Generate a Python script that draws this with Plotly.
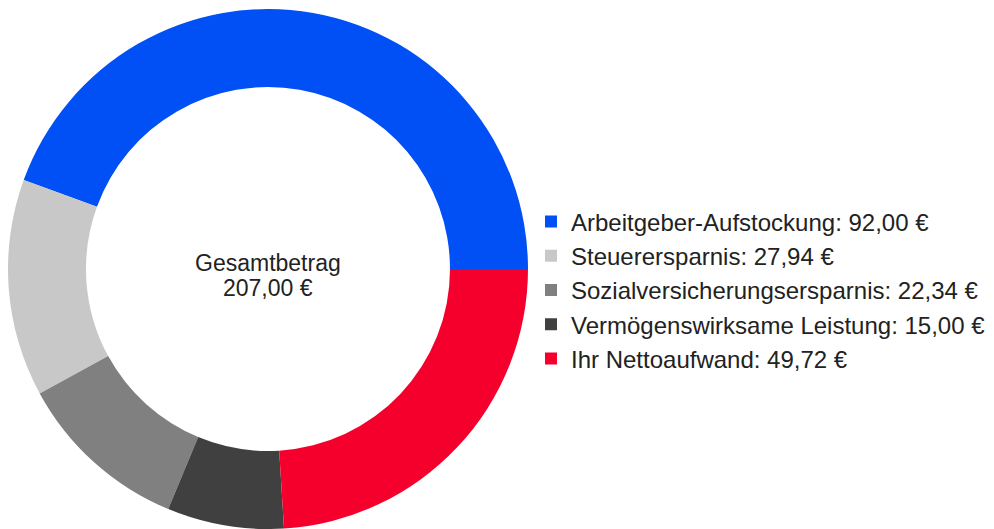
import plotly.graph_objects as go

categories = ["Arbeitgeber-Aufstockung", "Steuerersparnis", "Sozialversicherungsersparnis",
              "Vermögenswirksame Leistung", "Ihr Nettoaufwand"]
values = [92.00, 27.94, 22.34, 15.00, 49.72]
colors = ["#0050f5", "#c8c8c8", "#808080", "#404040", "#f5002d"]
total_label = "Gesamtbetrag"
total_value = sum(values)


def eur(v):
    return f"{v:,.2f}".replace(",", "X").replace(".", ",").replace("X", ".") + " €"


labels = [f"{c}: {eur(v)}" for c, v in zip(categories, values)]

# first slice starts at 3 o'clock and runs counterclockwise
start_rotation = 90 - 360 * values[0] / total_value

# page body has an 8px margin, so the figure is sized to fit the window
W, H = 986, 521
fig = go.Figure(go.Pie(
    labels=labels,
    values=values,
    marker=dict(colors=colors, line=dict(width=0)),
    hole=0.70,
    sort=False,
    direction="counterclockwise",
    rotation=start_rotation,
    textinfo="none",
    hoverinfo="none",
    domain=dict(x=[0, 520 / W], y=[0, 520 / H]),
))

fig.add_annotation(text=total_label, x=260 / W, y=1 - 255 / H, xref="paper", yref="paper",
                   showarrow=False, xanchor="center", yanchor="middle",
                   font=dict(size=23, color="#222222", family="Liberation Sans, Arial"))
fig.add_annotation(text=eur(total_value), x=260 / W, y=1 - 280 / H, xref="paper", yref="paper",
                   showarrow=False, xanchor="center", yanchor="middle",
                   font=dict(size=23, color="#222222", family="Liberation Sans, Arial"))

fig.update_layout(
    width=W, height=H,
    margin=dict(l=0, r=0, t=0, b=0),
    paper_bgcolor="white",
    plot_bgcolor="white",
    showlegend=True,
    legend=dict(x=523 / W, y=1 - 282 / H, xanchor="left", yanchor="middle",
                font=dict(size=24, color="#222222", family="Liberation Sans, Arial"),
                bgcolor="rgba(0,0,0,0)"),
    font=dict(family="Liberation Sans, Arial"),
)

fig.write_html("out.html")
